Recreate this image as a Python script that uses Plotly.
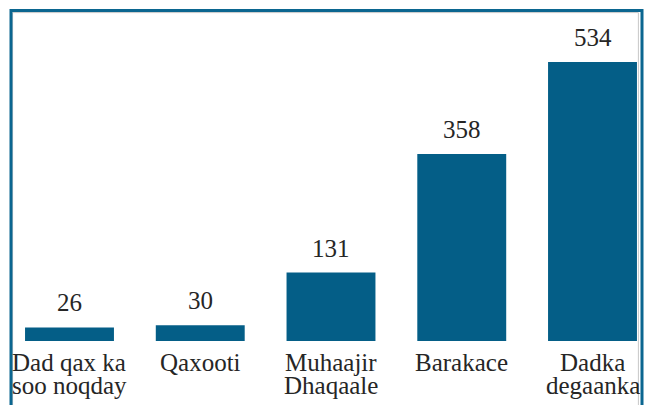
import plotly.graph_objects as go

# categories and counts
categories = ["Dad qax ka<br>soo noqday", "Qaxooti", "Muhaajir<br>Dhaqaale", "Barakace", "Dadka<br>degaanka"]
counts = [26, 30, 131, 358, 534]

BAR = "#045e87"
FRAME = "#0b6690"
INK = "#262626"
FONT = "Liberation Serif"

W, H = 645, 405
TOP, BOTTOM = 20, 341          # plot area, pixels
LINE = 23                      # spacing of wrapped category labels


def px(x):
    return x / W


def py(y):
    return (BOTTOM - y) / (BOTTOM - TOP)


fig = go.Figure()

fig.add_trace(
    go.Bar(
        x=list(range(len(categories))),
        y=counts,
        marker=dict(color=BAR, line=dict(width=0)),
        width=0.68,
        hoverinfo="skip",
    )
)

# value labels above bars
for i, v in enumerate(counts):
    fig.add_annotation(
        x=i, y=v, text=str(v), showarrow=False,
        yanchor="bottom", yshift=9,
        font=dict(family=FONT, size=25, color=INK),
    )

# category labels, one annotation per line for tighter line spacing
for i, label in enumerate(categories):
    for j, part in enumerate(label.split("<br>")):
        fig.add_annotation(
            x=i, y=0, text=part, showarrow=False,
            yanchor="top", yshift=-6 - j * LINE,
            font=dict(family=FONT, size=25, color=INK),
        )

# frame around the chart (open at the bottom)
fig.add_shape(type="rect", xref="paper", yref="paper",
              x0=px(12.6), x1=px(638.4), y0=py(470), y1=py(12.6),
              line=dict(color="#c8c8c8", width=1), layer="below")
fig.add_shape(type="rect", xref="paper", yref="paper",
              x0=px(11), x1=px(642), y0=py(470), y1=py(10.5),
              line=dict(color=FRAME, width=3), layer="above")

fig.update_layout(
    width=W,
    height=H,
    margin=dict(l=0, r=0, t=TOP, b=H - BOTTOM),
    plot_bgcolor="white",
    paper_bgcolor="white",
    showlegend=False,
    xaxis=dict(
        range=[-0.5315, 4.4015],
        showticklabels=False,
        showgrid=False,
        zeroline=False,
        showline=False,
        ticks="",
    ),
    yaxis=dict(
        range=[0, (BOTTOM - TOP) / 0.5225],
        visible=False,
        showgrid=False,
        zeroline=False,
    ),
)

# drop the browser's default 8px body margin so the figure fills the window
fig.write_html(
    "out.html",
    config={"displayModeBar": False},
    post_script="document.body.style.margin = '0';",
)
